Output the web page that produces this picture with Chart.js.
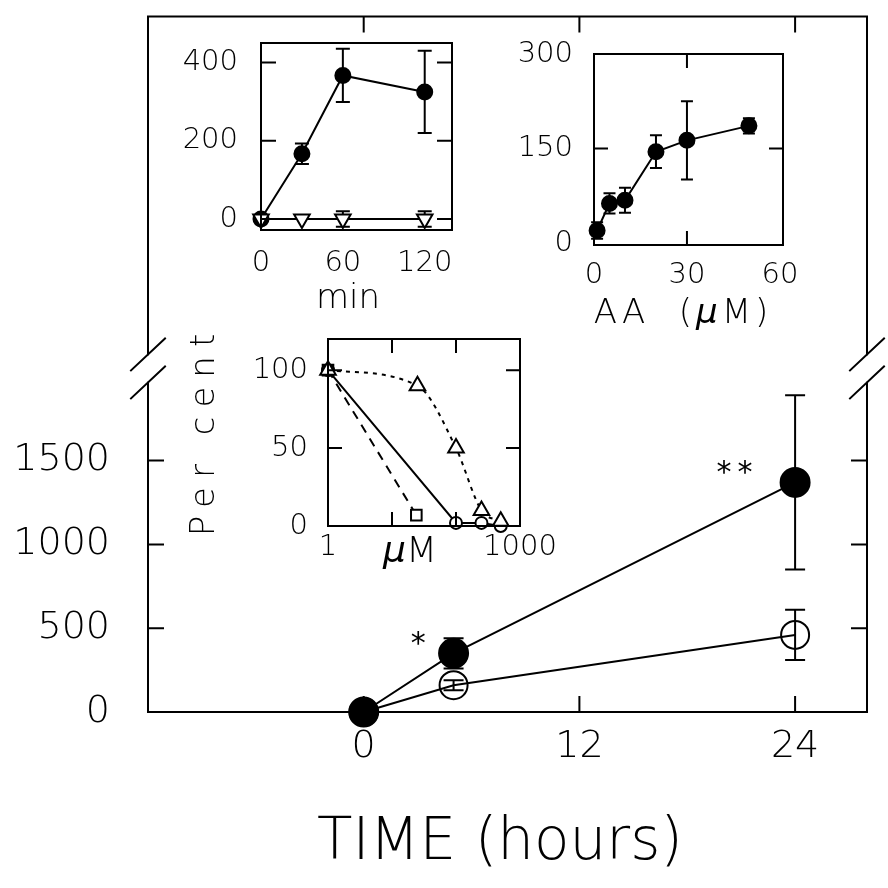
<!DOCTYPE html>
<html>
<head>
<meta charset="utf-8">
<script src="https://cdn.jsdelivr.net/npm/chart.js@4.4.1/dist/chart.umd.min.js"></script>
<style>
  html, body { margin: 0; padding: 0; background: #fff; }
  #wrap { position: relative; width: 888px; height: 888px; }
  #wrap canvas { position: absolute; left: 0; top: 0; }
</style>
</head>
<body>
<div id="wrap">
  <canvas id="mainChart" width="888" height="888"></canvas>
  <canvas id="minChart" width="888" height="888"></canvas>
  <canvas id="aaChart" width="888" height="888"></canvas>
  <canvas id="pctChart" width="888" height="888"></canvas>
</div>
<script>
// main panel: hours
const hours = [0, 5, 24];
const treated = [0, 350, 1370];
const treatedErr = [0, 90, 520];
const control = [0, 160, 460];
const controlErr = [0, 30, 150];
const mainXTicks = [0, 12, 24];
const mainYTicks = [0, 500, 1000, 1500];
const stars = [{ x: 3.2, y: 455, text: '*' }, { x: 20.8, y: 1475, text: '**' }];

// inset: time course in min
const minutes = [0, 30, 60, 120];
const minFilled = [0, 167, 367, 325];
const minFilledErr = [0, 26, 68, 105];
const minOpen = [0, 0, 0, 0];
const minOpenErr = [0, 0, 20, 20];
const minXTicks = [0, 60, 120];
const minYTicks = [0, 200, 400];

// inset: AA dose
const aaConc = [1, 5, 10, 20, 30, 50];
const aaVals = [20, 63, 68, 145, 163, 186];
const aaErr = [13, 16, 20, 26, 62, 12];
const aaXTicks = [0, 30, 60];
const aaYTicks = [0, 150, 300];

// inset: per cent vs uM (log)
const sqConc = [1, 24];
const sqPct = [100, 7];
const circConc = [1, 100, 250, 500];
const circPct = [100, 2, 2, 0];
const triConc = [1, 25, 100, 250, 500];
const triPct = [100, 90, 50, 10, 3];
const pctXTicks = [1, 1000];
const pctYTicks = [0, 50, 100];

const W = 888;
const FONT = "'DejaVu Sans', sans-serif";

const pts = (xs, ys) => xs.map((v, i) => ({ x: v, y: ys[i] }));

function makeScale(type, min, max, tickVals, axis, box, pad, size) {
  return {
    type: type, min: min, max: max,
    grid: { display: false, drawTicks: false },
    border: { display: false },
    ticks: {
      padding: pad, autoSkip: false, maxRotation: 0, minRotation: 0, color: '#000',
      font: { family: FONT, size: size, weight: '200' },
      callback: (v) => String(v)
    },
    afterBuildTicks: (s) => { s.ticks = tickVals.map(v => ({ value: v })); },
    afterFit: (s) => {
      if (axis === 'y') { s.width = box.left; s.paddingTop = 0; s.paddingBottom = 0; }
      else { s.height = W - box.bottom; s.paddingLeft = 0; s.paddingRight = 0; }
    }
  };
}

// frame, inward ticks and (optional) axis break
function framePlugin(cfg) {
  return {
    id: 'frame',
    afterDraw(chart) {
      const { ctx, chartArea: a, scales } = chart;
      const x = scales.x, y = scales.y;
      const len = cfg.tickLen;
      ctx.save();
      ctx.strokeStyle = '#000';
      ctx.lineWidth = 2;
      ctx.lineCap = 'square';
      ctx.beginPath();
      ctx.moveTo(a.left, a.bottom); ctx.lineTo(a.right, a.bottom);
      ctx.moveTo(a.left, a.top); ctx.lineTo(a.right, a.top);
      if (cfg.breakAt != null) {
        const bp = y.getPixelForValue(cfg.breakAt);
        const g = 14;
        [a.left, a.right].forEach(sx => {
          ctx.moveTo(sx, a.bottom); ctx.lineTo(sx, bp + g);
          ctx.moveTo(sx, bp - g); ctx.lineTo(sx, a.top);
          [bp - g, bp + g].forEach(sy => {
            ctx.moveTo(sx - 17, sy + 16); ctx.lineTo(sx + 17, sy - 16);
          });
        });
      } else {
        ctx.moveTo(a.left, a.bottom); ctx.lineTo(a.left, a.top);
        ctx.moveTo(a.right, a.bottom); ctx.lineTo(a.right, a.top);
      }
      ctx.stroke();
      ctx.lineCap = 'butt';
      ctx.beginPath();
      (cfg.yMarks || []).forEach(v => {
        const py = y.getPixelForValue(v);
        ctx.moveTo(a.left, py); ctx.lineTo(a.left + len, py);
        ctx.moveTo(a.right, py); ctx.lineTo(a.right - len, py);
      });
      (cfg.xMarks || []).forEach(v => {
        const px = x.getPixelForValue(v);
        ctx.moveTo(px, a.bottom); ctx.lineTo(px, a.bottom - len);
        ctx.moveTo(px, a.top); ctx.lineTo(px, a.top + len);
      });
      ctx.stroke();
      ctx.restore();
    }
  };
}

// vertical error bars, drawn under the markers
function errorPlugin(capHalf) {
  return {
    id: 'errorbars',
    beforeDatasetsDraw(chart) {
      const { ctx, scales } = chart;
      ctx.save();
      ctx.strokeStyle = '#000';
      ctx.lineWidth = 2;
      chart.data.datasets.forEach((ds, i) => {
        if (!ds.errors) return;
        const meta = chart.getDatasetMeta(i);
        meta.data.forEach((el, j) => {
          const e = ds.errors[j];
          if (!e) return;
          const v = ds.data[j].y;
          const top = scales.y.getPixelForValue(v + e);
          const bot = scales.y.getPixelForValue(v - e);
          ctx.beginPath();
          ctx.moveTo(el.x, top); ctx.lineTo(el.x, bot);
          ctx.moveTo(el.x - capHalf, top); ctx.lineTo(el.x + capHalf, top);
          ctx.moveTo(el.x - capHalf, bot); ctx.lineTo(el.x + capHalf, bot);
          ctx.stroke();
        });
      });
      ctx.restore();
    }
  };
}

function textPlugin(items, notes) {
  return {
    id: 'texts',
    afterDraw(chart) {
      const ctx = chart.ctx;
      items.forEach(it => {
        ctx.save();
        ctx.fillStyle = '#000';
        ctx.textBaseline = 'middle';
        ctx.textAlign = 'left';
        ctx.letterSpacing = (it.spacing || 0) + 'px';
        const fonts = it.parts.map(p => (p.italic ? 'italic ' : '') + '200 ' + it.size + 'px ' + FONT);
        let total = 0;
        const widths = it.parts.map((p, i) => {
          ctx.font = fonts[i];
          const w = ctx.measureText(p.t).width;
          total += w;
          return w;
        });
        total -= (it.spacing || 0);
        ctx.translate(it.x, it.y);
        if (it.rotate) ctx.rotate(it.rotate);
        let cx = -total / 2;
        it.parts.forEach((p, i) => {
          ctx.font = fonts[i];
          ctx.fillText(p.t, cx, 0);
          cx += widths[i];
        });
        ctx.restore();
      });
      (notes || []).forEach(n => {
        ctx.save();
        ctx.fillStyle = '#000';
        ctx.font = '400 30px ' + FONT;
        ctx.letterSpacing = '6px';
        ctx.textAlign = 'center';
        ctx.textBaseline = 'alphabetic';
        ctx.fillText(n.text, chart.scales.x.getPixelForValue(n.x), chart.scales.y.getPixelForValue(n.y) + 17);
        ctx.restore();
      });
    }
  };
}

function baseOptions(box, xScale, yScale) {
  return {
    responsive: false,
    animation: false,
    events: [],
    layout: { padding: { top: box.top, right: W - box.right, left: 0, bottom: 0 } },
    plugins: { legend: { display: false }, tooltip: { enabled: false } },
    scales: { x: xScale, y: yScale }
  };
}

function line(data, extra) {
  return Object.assign({
    data: data,
    borderColor: '#000',
    borderWidth: 2,
    pointBorderColor: '#000',
    pointBorderWidth: 2,
    pointBackgroundColor: '#000',
    pointHoverRadius: 0,
    tension: 0,
    clip: false
  }, extra);
}

// ---------- main chart ----------
const mainBox = { left: 148, top: 7, right: 867, bottom: 712 };
new Chart(document.getElementById('mainChart'), {
  type: 'line',
  data: {
    datasets: [
      line(pts(hours, control), { errors: controlErr, pointRadius: 14, pointBackgroundColor: 'rgba(0,0,0,0)' }),
      line(pts(hours, treated), { errors: treatedErr, pointRadius: 14.5 })
    ]
  },
  options: baseOptions(mainBox,
    makeScale('linear', -12, 28, mainXTicks, 'x', mainBox, 12, 38),
    makeScale('linear', 0, 4150, mainYTicks, 'y', mainBox, 38, 38)),
  plugins: [
    framePlugin({ tickLen: 16, yMarks: [500, 1000, 1500], xMarks: mainXTicks, breakAt: 2050 }),
    errorPlugin(10),
    textPlugin([{ parts: [{ t: 'TIME (hours)' }], x: 500, y: 844, size: 58 }], stars)
  ]
});

// ---------- inset: min ----------
const minBox = { left: 261, top: 43, right: 452, bottom: 230 };
new Chart(document.getElementById('minChart'), {
  type: 'line',
  data: {
    datasets: [
      line(pts(minutes, minOpen), { errors: minOpenErr, pointStyle: 'triangle', rotation: 180, pointRadius: 9, pointBackgroundColor: '#fff' }),
      line(pts(minutes, minFilled), { errors: minFilledErr, pointRadius: 7.5 })
    ]
  },
  options: baseOptions(minBox,
    makeScale('linear', 0, 140, minXTicks, 'x', minBox, 16, 29),
    makeScale('linear', -28, 450, minYTicks, 'y', minBox, 23, 29)),
  plugins: [
    framePlugin({ tickLen: 15, yMarks: minYTicks, xMarks: [] }),
    errorPlugin(7),
    textPlugin([{ parts: [{ t: 'min' }], x: 348, y: 299, size: 34 }])
  ]
});

// ---------- inset: AA ----------
const aaBox = { left: 594, top: 54, right: 783, bottom: 245 };
new Chart(document.getElementById('aaChart'), {
  type: 'line',
  data: {
    datasets: [
      line(pts(aaConc, aaVals), { errors: aaErr, pointRadius: 7.5 })
    ]
  },
  options: baseOptions(aaBox,
    makeScale('linear', 0, 61, aaXTicks, 'x', aaBox, 13, 29),
    makeScale('linear', -3, 300, aaYTicks, 'y', aaBox, 21, 29)),
  plugins: [
    framePlugin({ tickLen: 14, yMarks: [150], xMarks: [30] }),
    errorPlugin(6),
    textPlugin([{ parts: [{ t: 'AA  (' }, { t: 'μ', italic: true }, { t: 'M)' }], x: 681, y: 314, size: 34, spacing: 4 }])
  ]
});

// ---------- inset: per cent ----------
const pctBox = { left: 328, top: 339, right: 520, bottom: 526 };
new Chart(document.getElementById('pctChart'), {
  type: 'line',
  data: {
    datasets: [
      line(pts(triConc, triPct), { borderDash: [4, 5], cubicInterpolationMode: 'monotone', pointStyle: 'triangle', pointRadius: 9, pointBackgroundColor: '#fff' }),
      line(pts(circConc, circPct), { pointRadius: 6, pointBackgroundColor: '#fff' }),
      line(pts(sqConc, sqPct), { borderDash: [9, 7], pointStyle: 'rect', pointRadius: 7.5, pointBackgroundColor: ['#000', '#fff'] })
    ]
  },
  options: baseOptions(pctBox,
    makeScale('logarithmic', 1, 1000, pctXTicks, 'x', pctBox, 4, 29),
    makeScale('linear', 0, 120, pctYTicks, 'y', pctBox, 20, 29)),
  plugins: [
    framePlugin({ tickLen: 14, yMarks: [50, 100], xMarks: [10, 100] }),
    textPlugin([
      { parts: [{ t: 'Per cent' }], x: 205, y: 435, size: 34, spacing: 9, rotate: -Math.PI / 2 },
      { parts: [{ t: 'μ', italic: true }, { t: 'M' }], x: 410, y: 553, size: 36 }
    ])
  ]
});
</script>
</body>
</html>
